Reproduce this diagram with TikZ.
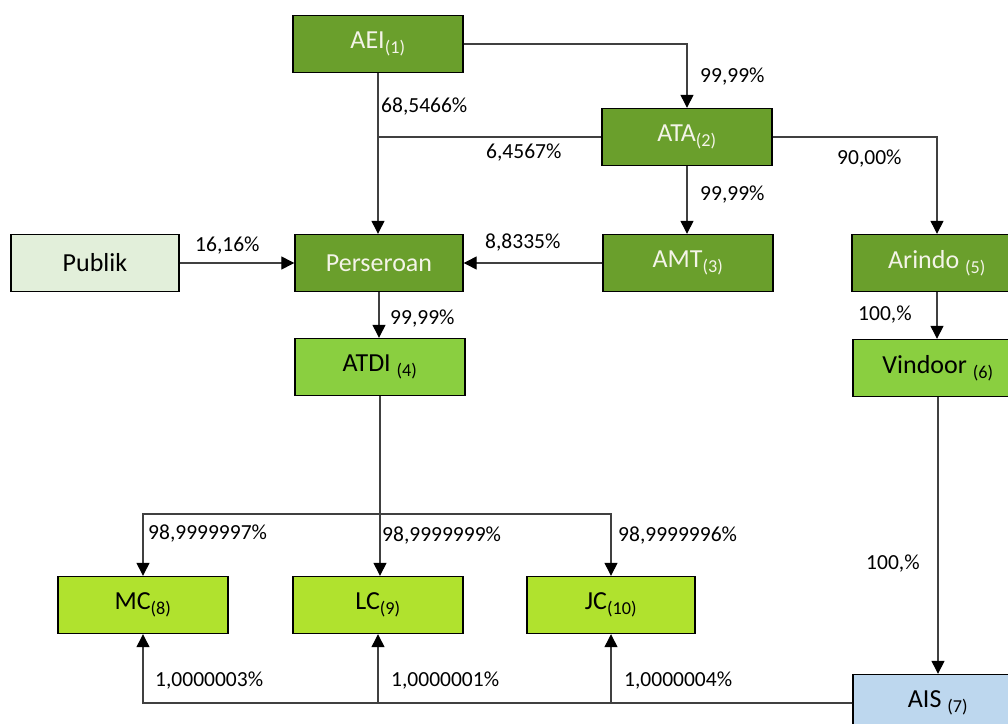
\documentclass[tikz,border=0pt]{standalone}
\usepackage{fontspec}
\setmainfont{Carlito}
\usetikzlibrary{arrows.meta}
\definecolor{dkgreen}{HTML}{6A9F2C}
\definecolor{mdgreen}{HTML}{8ACF40}
\definecolor{ltgreen}{HTML}{B0E22E}
\definecolor{pubfill}{HTML}{E2EFDA}
\definecolor{aisfill}{HTML}{BDD7EE}
\definecolor{linec}{HTML}{404040}
\definecolor{boxtext}{HTML}{F4F4E8}
\tikzset{
  box/.style={draw=black, line width=1.4pt, minimum width=170pt, minimum height=57pt, inner sep=0pt, font=\fontsize{26}{30}\selectfont},
  dkbox/.style={box, fill=dkgreen, text=boxtext},
  mdbox/.style={box, fill=mdgreen, text=black},
  ltbox/.style={box, fill=ltgreen, text=black},
  pubbox/.style={box, fill=pubfill, text=black},
  aisbox/.style={box, fill=aisfill, text=black},
  conn/.style={draw=linec, line width=1.3pt},
  arr/.style={conn, -{Triangle[width=13pt,length=13pt,fill=black,color=black]}},
  pct/.style={anchor=base west, inner sep=0pt, font=\fontsize{21.5}{25}\selectfont, text=black}
}
\newcommand{\sub}[1]{\textsubscript{#1}}
\begin{document}
\begin{tikzpicture}[x=1pt,y=-1pt]
\useasboundingbox (0,0) rectangle (1008,723);
\clip (0,0) rectangle (1008,723);
\fill[white] (0,0) rectangle (1008,723);
% nodes
\node[dkbox] (aei) at (378,44) {AEI\sub{(1)}};
\node[dkbox] (ata) at (687,137) {ATA\sub{(2)}};
\node[pubbox, minimum width=168pt] (pub) at (95,263) {Publik};
\node[dkbox, minimum width=168pt] (pers) at (379,263) {Perseroan};
\node[dkbox] (amt) at (688,263) {AMT\sub{(3)}};
\node[dkbox] (arindo) at (937,263) {Arindo \sub{(5)}};
\node[mdbox] (atdi) at (380,367) {ATDI \sub{(4)}};
\node[mdbox] (vind) at (938,368) {Vindoor \sub{(6)}};
\node[ltbox] (mc) at (143,605) {MC\sub{(8)}};
\node[ltbox] (lc) at (378,605) {LC\sub{(9)}};
\node[ltbox, minimum width=168pt] (jc) at (611,605) {JC\sub{(10)}};
\node[aisbox] (ais) at (938,703) {AIS \sub{(7)}};
% connectors
\draw[arr] (aei.east) -| (ata.north);
\draw[arr] (aei.south) -- (aei.south |- pers.north);
\draw[conn] (ata.west) -- (ata.west -| aei.south);
\draw[arr] (ata.south) -- (ata.south |- amt.north);
\draw[arr] (ata.east) -| (arindo.north);
\draw[arr] (pub.east) -- (pers.west);
\draw[arr] (amt.west) -- (pers.east);
\draw[arr] (pers.south) -- (pers.south |- atdi.north);
\draw[arr] (arindo.south) -- (arindo.south |- vind.north);
\draw[arr] (vind.south) -- (vind.south |- ais.north);
\coordinate (br) at (380,514);
\draw[arr] (atdi.south) -- (atdi.south |- lc.north);
\draw[arr] (br) -| (mc.north);
\draw[arr] (br) -| (jc.north);
\draw[arr] (ais.west) -| (mc.south);
\draw[arr] (ais.west) -| (lc.south);
\draw[arr] (ais.west) -| (jc.south);
% labels
\node[pct] (l1) at (700,82) {99,99\%};
\node[pct] (l2) at (381,112) {68,5466\%};
\node[pct] (l3) at (486,158) {6,4567\%};
\node[pct] (l4) at (700,200) {99,99\%};
\node[pct] (l5) at (837,164) {90,00\%};
\node[pct] (l6) at (195,251) {16,16\%};
\node[pct] (l7) at (485,248) {8,8335\%};
\node[pct] (l8) at (390,324) {99,99\%};
\node[pct] (l9) at (858,320) {100,\%};
\node[pct] (l10) at (148,539) {98,9999997\%};
\node[pct] (l11) at (382,541) {98,9999999\%};
\node[pct] (l12) at (618,541) {98,9999996\%};
\node[pct] (l13) at (866,569) {100,\%};
\node[pct] (l14) at (155,686) {1,0000003\%};
\node[pct] (l15) at (391,686) {1,0000001\%};
\node[pct] (l16) at (624,686) {1,0000004\%};
\end{tikzpicture}
\end{document}
